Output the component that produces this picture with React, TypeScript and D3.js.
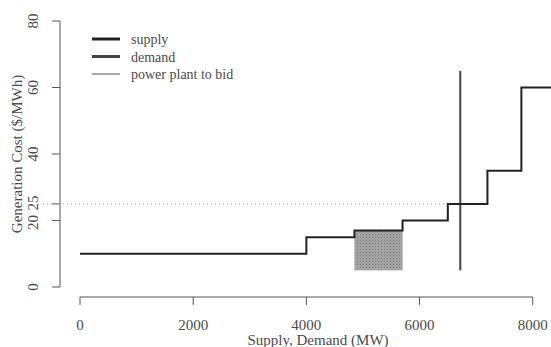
import React from "react";
import * as d3 from "d3";

const supplyX = [0, 4000, 4850, 5700, 6500, 7200, 7800, 8330];
const supplyY = [10, 15, 17, 20, 25, 35, 60];
const bidPlant = { x0: 4850, x1: 5700, y0: 5, y1: 17 };
const demandX = 6720;
const demandRange = [5, 65];
const clearingPrice = 25;
const xTicks = [0, 2000, 4000, 6000, 8000];
const yTicks = [0, 20, 25, 40, 60, 80];
const legendItems = ["supply", "demand", "power plant to bid"];

export default function App() {
  const W = 551, H = 347;
  const x = d3.scaleLinear().domain([0, 8000]).range([80, 532.7]);
  const y = d3.scaleLinear().domain([0, 80]).range([287, 21]);
  const pts: [number, number][] = [];
  supplyY.forEach((v, i) => {
    pts.push([supplyX[i], v]);
    pts.push([supplyX[i + 1], v]);
  });
  const line = d3.line<[number, number]>().x(d => x(d[0])).y(d => y(d[1]));
  const font = "'Liberation Serif', 'Times New Roman', serif";
  const legendColors = ["#222", "#444", "#aaa"];
  const legendWidths = [3, 3, 2];
  const txt = "#4a4a4a";
  return (
    <div style={{ position: "absolute", left: 0, top: 0 }}>
      <svg width={W} height={H} style={{ display: "block", background: "#fff" }} fontFamily={font}>
        <defs>
          <pattern id="hatch" width="3" height="3" patternUnits="userSpaceOnUse">
            <rect width="3" height="3" fill="#a3a3a3" />
            <rect width="1" height="1" fill="#7a7a7a" />
          </pattern>
        </defs>
        {/* y axis */}
        <line x1={60} x2={60} y1={y(0)} y2={y(80)} stroke="#555" strokeWidth={1} />
        {yTicks.map(t => (
          <g key={t}>
            <line x1={52} x2={60} y1={y(t)} y2={y(t)} stroke="#555" />
            {t !== 25 && t !== 20 ? (
              <text x={0} y={0} transform={`translate(38,${y(t)}) rotate(-90)`} textAnchor="middle" fontSize={15} fill={txt}>{t}</text>
            ) : null}
          </g>
        ))}
        <text transform={`translate(38,${y(20) + 2}) rotate(-90)`} textAnchor="middle" fontSize={15} fill={txt}>20</text>
        <text transform={`translate(38,${y(25) - 1}) rotate(-90)`} textAnchor="middle" fontSize={15} fill={txt}>25</text>
        <text transform={`translate(22,154) rotate(-90)`} textAnchor="middle" fontSize={15} fill={txt}>Generation Cost ($/MWh)</text>
        {/* x axis */}
        <line x1={x(0)} x2={x(8000)} y1={297} y2={297} stroke="#555" />
        {xTicks.map(t => (
          <g key={t}>
            <line x1={x(t)} x2={x(t)} y1={297} y2={305} stroke="#555" />
            <text x={x(t)} y={330} textAnchor="middle" fontSize={15} fill={txt}>{t}</text>
          </g>
        ))}
        <text x={318} y={345} textAnchor="middle" fontSize={15} fill={txt}>Supply, Demand (MW)</text>
        {/* clearing price dotted */}
        <line x1={43} x2={x(6500)} y1={y(clearingPrice)} y2={y(clearingPrice)} stroke="#999" strokeWidth={1} strokeDasharray="1,3" />
        {/* bid plant */}
        <rect x={x(bidPlant.x0)} y={y(bidPlant.y1)} width={x(bidPlant.x1) - x(bidPlant.x0)} height={y(bidPlant.y0) - y(bidPlant.y1)} fill="url(#hatch)" />
        {/* demand */}
        <line x1={x(demandX)} x2={x(demandX)} y1={y(demandRange[0])} y2={y(demandRange[1])} stroke="#444" strokeWidth={2} />
        {/* supply */}
        <path d={line(pts) || ""} fill="none" stroke="#222" strokeWidth={2} />
        {/* legend */}
        {legendItems.map((s, i) => (
          <g key={s}>
            <line x1={92} x2={120} y1={39 + i * 17.5} y2={39 + i * 17.5} stroke={legendColors[i]} strokeWidth={legendWidths[i]} />
            <text x={131} y={44 + i * 17.5} fontSize={14} fill={txt}>{s}</text>
          </g>
        ))}
      </svg>
    </div>
  );
}
